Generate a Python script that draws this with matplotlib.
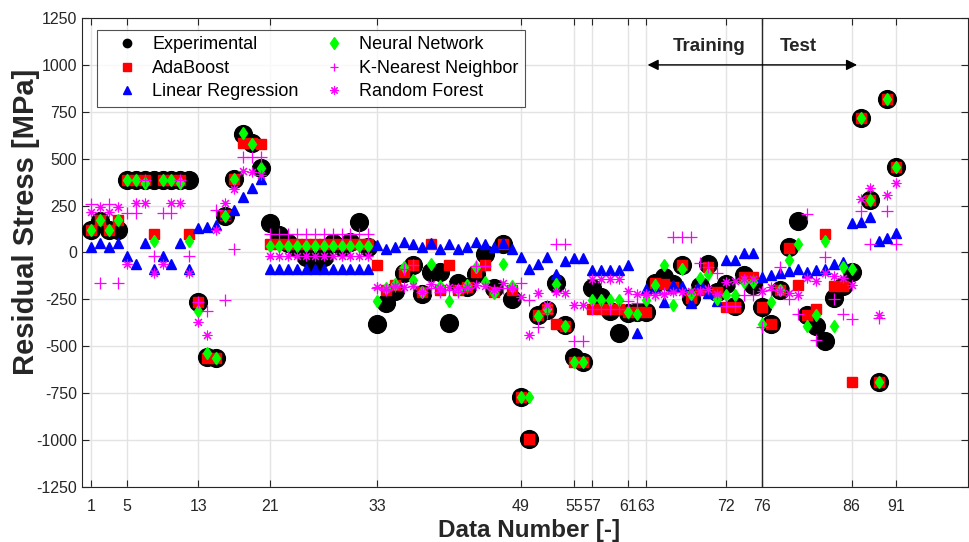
import numpy as np
import matplotlib
matplotlib.use("Agg")
import matplotlib.pyplot as plt

plt.rcParams['font.family'] = ['Liberation Sans', 'DejaVu Sans']
plt.rcParams['axes.unicode_minus'] = False

data_number = list(range(1, 92))

experimental = [120, 170, 120, 120, 385, 385, 385, 385, 385, 385, 385, 385, -262, -555, -562, 195, 390, 630, 582, 449,
                155, 93, 49, 25, -22, -60, -22, 49, 30, 55, 164, 31, -380, -271, -205, -110, -67, -222, -102, -102,
                -378, -165, -185, -115, -6, -191, 47, -247, -768, -996, -333, -306, -164, -384, -559, -582, -191, -235, -310, -427,
                -320, -315, -315, -160, -133, -170, -67, -244, -178, -62, -212, -168, -287, -118, -173, -289, -382, -200, 28, 168,
                -333, -392, -470, -244, -180, -102, 715, 280, -692, 817, 454]

adaboost = [120, 173, 120, 173, 385, 385, 385, 100, 385, 385, 385, 100, -262, -560, -560, 200, 390, 582, 582, 580,
            44, 44, 44, 44, 44, 44, 44, 44, 44, 44, 44, 44, -67, -200, -173, -102, -67, -209, 45, -200,
            -67, -200, -182, -102, -67, -209, 45, -200, -768, -996, -333, -303, -381, -392, -582, -582, -303, -303, -303, -303,
            -315, -315, -315, -165, -170, -182, -67, -244, -200, -76, -209, -292, -292, -130, -130, -289, -381, -200, 26, -173,
            -333, -303, 99, -177, -177, -692, 715, 280, -692, 817, 454]

linear_regression = [31, 49, 31, 49, -19, -63, 49, -90, -19, -63, 49, -90, 132, 137, 147, 205, 226, 294, 342, 393,
                     -90, -90, -90, -90, -90, -90, -90, -90, -90, -90, -90, -90, 40, 19, 28, 54, 44, 28, 49, 19,
                     44, 19, 28, 54, 45, 31, 49, 19, -22, -90, -63, -22, -115, -44, -31, -31, -95, -93, -93, -93,
                     -67, -431, -195, -190, -262, -173, -180, -271, -161, -218, -257, -40, -40, -4, -4, -132, -120, -111, -100, -90,
                     -104, -93, -86, -63, -49, 155, 164, 191, 63, 76, 102]

neural_network = [120, 173, 120, 173, 385, 385, 369, 61, 385, 385, 369, 61, -310, -534, -560, 195, 390, 635, 577, 449,
                  35, 35, 35, 35, 35, 35, 35, 35, 35, 35, 35, 35, -259, -191, -168, -79, -147, -209, -61, -179,
                  -259, -200, -173, -80, -155, -214, -61, -179, -768, -768, -338, -300, -166, -392, -582, -582, -253, -253, -253, -253,
                  -315, -330, -253, -173, -67, -278, -88, -221, -138, -113, -250, -224, -224, -158, -158, -380, -265, -200, -40, 45,
                  -390, -333, 61, -390, -76, -90, 715, 280, -692, 817, 454]

k_nearest = [258, -164, 258, -164, 209, 209, 386, -20, 209, 209, 386, -20, -262, -310, 226, -253, 17, 511, 511, 511,
             97, 97, 97, 97, 97, 97, 97, 97, 97, 97, 97, 97, -191, -200, -180, -90, -67, -209, -191, -209,
             -200, -210, -191, -72, -72, -200, -190, -190, -164, -253, -399, -324, 45, 45, -470, -470, -303, -303, -303, -303,
             -260, -267, -225, -225, -218, 81, 81, 81, -58, -76, -111, -287, -287, -226, -226, -395, -200, -76, -250, -328,
             205, -466, -22, -250, -328, -356, 223, 44, -351, 223, 44]

random_forest = [218, 241, 218, 241, -61, 265, 265, -111, -61, 265, 265, -111, -369, -440, 120, 262, 337, 434, 430, 413,
                 -17, -17, -17, -17, -17, -17, -17, -17, -17, -17, -17, -17, -185, -195, -178, -185, -180, -209, -168, -191,
                 -182, -191, -182, -173, -178, -200, -165, -191, -237, -442, -216, -280, -209, -214, -280, -280, -143, -143, -143, -143,
                 -207, -220, -222, -224, -220, -213, -209, -204, -206, -193, -220, -155, -152, -140, -140, -204, -186, -204, -218, -226,
                 -138, -152, -111, -126, -138, -173, 284, 342, -333, 306, 372]

x_ticks = [1, 5, 13, 21, 33, 49, 55, 57, 61, 63, 72, 76, 86, 91]
y_ticks = list(range(-1250, 1251, 250))
split_index = 76

fig = plt.figure(figsize=(9.69, 5.42), dpi=100)
ax = fig.add_axes([0.0846, 0.1015, 0.9144, 0.8653])

ax.plot(data_number, experimental, 'o', color='black', markersize=12.8, label='Experimental', zorder=3)
ax.plot(data_number, adaboost, 's', color='#ff0000', markersize=7.8, label='AdaBoost', zorder=4)
ax.plot(data_number, linear_regression, '^', color='#0000ff', markersize=7.2, label='Linear Regression', zorder=5)
ax.plot(data_number, neural_network, 'd', color='#00ff00', markersize=6.0, label='Neural Network', zorder=6)
ax.plot(data_number, k_nearest, '+', color='#ff00ff', markersize=8.5, markeredgewidth=0.9, label='K-Nearest Neighbor', zorder=7)
ax.plot(data_number, random_forest, marker=(8, 2, 0), linestyle='none', color='#ff00ff', markersize=7,
        markeredgewidth=0.8, label='Random Forest', zorder=8)

ax.axvline(split_index, color='#262626', lw=1.0, zorder=2)
ax.annotate('', xy=(63.2, 1000), xytext=(86.6, 1000),
            arrowprops=dict(arrowstyle='<|-|>', color='black', lw=1.0, mutation_scale=16, shrinkA=0, shrinkB=0))
ax.text(70.05, 1100, 'Training', ha='center', va='center', fontsize=13.5, fontweight='bold', color='#262626')
ax.text(80.0, 1100, 'Test', ha='center', va='center', fontsize=13.5, fontweight='bold', color='#262626')

ax.set_xlim(0, 99)
ax.set_ylim(-1250, 1250)
ax.set_xticks(x_ticks)
ax.set_yticks(y_ticks)
ax.tick_params(direction='in', length=5, width=0.8, top=True, right=True, labelsize=11.5, colors='#262626')
ax.tick_params(axis='x', pad=9)
ax.grid(True, color='#e3e3e3', lw=1.0, zorder=0)
ax.set_axisbelow(True)
for s in ax.spines.values():
    s.set_color('#262626')
    s.set_linewidth(0.8)

ax.set_xlabel('Data Number [-]', fontsize=17.5, fontweight='bold', color='#262626', va='center')
ax.set_ylabel('Residual Stress [MPa]', fontsize=21, fontweight='bold', color='#262626', va='center')
ax.xaxis.set_label_coords(0.505, -0.092)
ax.yaxis.set_label_coords(-0.063, 0.565)

leg = ax.legend(loc='upper left', bbox_to_anchor=(0.017, 0.9744), borderaxespad=0, ncol=2, fontsize=13,
                frameon=True, fancybox=False, edgecolor='#262626', handlelength=2.6, handletextpad=0.1,
                columnspacing=0.65, borderpad=0.35, labelspacing=0.36)
leg.get_frame().set_linewidth(0.8)
for h in leg.legend_handles:
    h.set_markersize(6)

fig.savefig('out.png', dpi=100)
